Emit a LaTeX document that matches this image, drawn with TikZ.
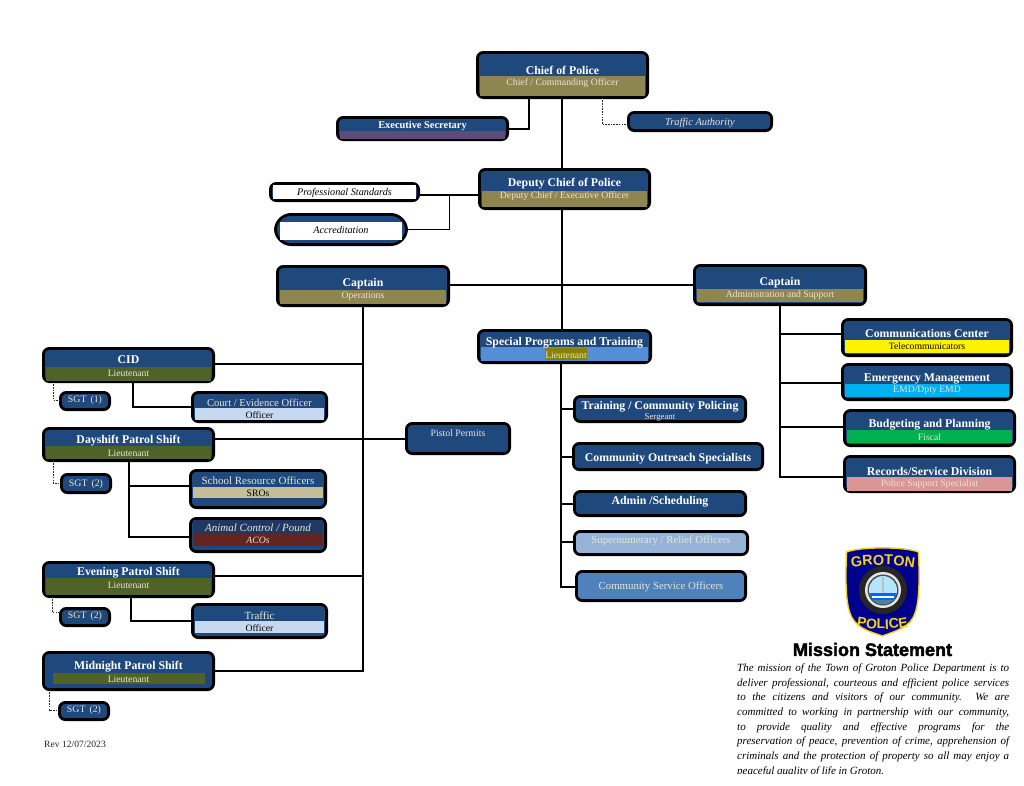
\documentclass[tikz,border=0pt]{standalone}
\usepackage{fontspec}
\setmainfont{Liberation Serif}
\newfontfamily\logofont{Liberation Sans}
\newfontfamily\headfont[BoldFeatures={FakeBold=2.5}]{Liberation Sans}
\usetikzlibrary{calc,decorations.text}
\definecolor{navy}{HTML}{1F497D}
\definecolor{darknavy}{HTML}{1F3864}
\definecolor{gold}{HTML}{8F8550}
\definecolor{olivebar}{HTML}{4F6228}
\definecolor{plum}{HTML}{5F4A7B}
\definecolor{paleblue}{HTML}{C6D9F1}
\definecolor{tan}{HTML}{C4BD97}
\definecolor{maroon}{HTML}{632523}
\definecolor{midblue}{HTML}{558ED5}
\definecolor{hilite}{HTML}{8A8000}
\definecolor{skyband}{HTML}{00B0F0}
\definecolor{greenband}{HTML}{00B050}
\definecolor{pinkband}{HTML}{D99694}
\definecolor{lightsteel}{HTML}{95B3D7}
\definecolor{steel}{HTML}{4F81BD}
\definecolor{subtext}{HTML}{E9E6D6}
\definecolor{logoY}{HTML}{F2D21B}
\definecolor{logoB}{HTML}{00008F}
\tikzset{
  orgbox/.style={draw=black,line width=2.8pt,rounded corners=6pt,fill=navy,inner sep=0pt,outer sep=0pt},
  link/.style={draw=black,line width=2.6pt},
  thinlink/.style={draw=black,line width=1pt},
  dashlink/.style={draw=black!85,line width=0.9pt,dash pattern=on 1.6pt off 1.1pt},
  titletext/.style={text=white,font=\fontsize{11.8}{12}\selectfont\bfseries,inner sep=0pt,yshift=-1pt},
  subtitletext/.style={text=subtext,font=\fontsize{9.7}{10}\selectfont,inner sep=0pt,yshift=-1pt},
  plaintext/.style={text=subtext,font=\fontsize{10.8}{12}\selectfont,inner sep=0pt,yshift=-1pt},
  ital/.style={font=\fontsize{10.4}{12}\selectfont\itshape}
}
% [style], name, x1, y1, x2, y2
\newcommand\obox[6][]{%
  \pgfmathsetmacro\ocx{(#3+#5)/2}\pgfmathsetmacro\ocy{(#4+#6)/2}%
  \pgfmathsetmacro\ow{#5-#3-2.8}\pgfmathsetmacro\oh{#6-#4-2.8}%
  \node[orgbox,minimum width=\ow pt,minimum height=\oh pt,#1] (#2) at (\ocx,\ocy) {};}
% [inset], name, y1, y2, colour
\newcommand\bandat[5][2.5]{%
  \fill[#5] ([xshift=#1 pt]#2.west |- 0,#3) rectangle ([xshift=-#1 pt]#2.east |- 0,#4);}
\newcommand\boxtitle[4][]{\node[titletext,#1] (#2-t) at (#2.center |- 0,#3) {#4};}
\newcommand\boxsub[4][]{\node[subtitletext,#1] (#2-s) at (#2.center |- 0,#3) {#4};}
\begin{document}
\begin{tikzpicture}[x=1pt,y=-1pt]
\useasboundingbox (0,0) rectangle (1024,785);
\fill[white] (0,0) rectangle (1024,785);

% top
\obox{chief}{476}{51}{649}{99}
\bandat{chief}{76}{96}{gold}
\boxtitle{chief}{69.5}{Chief of Police}
\boxsub{chief}{82.5}{Chief / Commanding Officer}

\obox{exec}{336}{116}{509}{141}
\bandat{exec}{131}{139}{plum}
\boxtitle[font=\fontsize{10.4}{11}\selectfont\bfseries]{exec}{125}{Executive Secretary}

\obox{traffauth}{627}{111}{773}{132}
\node[plaintext,ital] (traffauth-t) at (traffauth.center) {Traffic Authority};

\obox{deputy}{478}{168}{651}{210}
\bandat{deputy}{191}{207}{gold}
\boxtitle{deputy}{183}{Deputy Chief of Police}
\boxsub{deputy}{195.5}{Deputy Chief / Executive Officer}

\obox{profstd}{269}{182}{420}{202}
\bandat{profstd}{185}{199}{white}
\node[text=black,inner sep=0pt,yshift=-1pt,font=\fontsize{10.2}{12}\selectfont\itshape] (profstd-t) at (profstd.center |- 0,191.5) {Professional Standards};

\obox[rounded corners=16pt]{accred}{274}{213}{408}{246}
\bandat[5]{accred}{222}{240}{white}
\node[text=black,inner sep=0pt,yshift=-1pt,font=\fontsize{10.2}{12}\selectfont\itshape] (accred-t) at (accred.center |- 0,229) {Accreditation};

% captains
\obox{capops}{276}{265}{450}{307}
\bandat{capops}{290}{304}{gold}
\boxtitle{capops}{283}{Captain}
\boxsub{capops}{295.5}{Operations}

\obox{capadm}{693}{264}{867}{306}
\bandat{capadm}{289}{302}{gold}
\boxtitle{capadm}{281.5}{Captain}
\boxsub{capadm}{294}{Administration and Support}

% centre column
\obox{special}{477}{329}{652}{364}
\bandat{special}{347}{361}{midblue}
\fill[hilite] (545,348) rectangle (587,360);
\boxtitle{special}{342}{Special Programs and Training}
\node[subtitletext] (special-s) at (566,354) {Lieutenant};

\obox{training}{573}{395}{747}{423}
\boxtitle{training}{406}{Training / Community Policing}
\node[subtitletext,font=\fontsize{8.8}{10}\selectfont] (training-s) at (660,417) {Sergeant};

\obox{outreach}{572}{442}{764}{471}
\boxtitle{outreach}{458}{Community Outreach Specialists}

\obox{adminsch}{573}{490}{747}{517}
\boxtitle{adminsch}{501}{Admin /Scheduling}

\obox[fill=lightsteel]{supern}{573}{530}{749}{556}
\node[plaintext] (supern-t) at (supern.center |- 0,540) {Supernumerary / Relief Officers};

\obox[fill=steel]{cso}{575}{570}{747}{602}
\node[plaintext] (cso-t) at (cso.center |- 0,586) {Community Service Officers};

\obox{pistol}{405}{422}{511}{455}
\node[plaintext,font=\fontsize{9.8}{12}\selectfont] (pistol-t) at (pistol.center |- 0,432) {Pistol Permits};

% left column
\obox{cid}{42}{347}{215}{383}
\bandat{cid}{367}{381}{olivebar}
\boxtitle{cid}{359}{CID}
\boxsub{cid}{372.5}{Lieutenant}

\obox{sgtA}{59}{391}{111}{411}
\node[plaintext,font=\fontsize{9.8}{12}\selectfont] (sgtA-t) at (sgtA.center |- 0,399.5) {SGT\, (1)};

\obox{court}{191}{391}{328}{423}
\bandat{court}{408}{420}{paleblue}
\node[plaintext,font=\fontsize{10.6}{12}\selectfont] (court-t) at (court.center |- 0,402) {Court / Evidence Officer};
\boxsub[text=black]{court}{414}{Officer}

\obox{day}{42}{427}{215}{462}
\bandat{day}{446}{459}{olivebar}
\boxtitle{day}{440}{Dayshift Patrol Shift}
\boxsub{day}{452}{Lieutenant}

\obox{sgtB}{60}{473}{112}{494}
\node[plaintext,font=\fontsize{9.8}{12}\selectfont] (sgtB-t) at (sgtB.center |- 0,483) {SGT\, (2)};

\obox{school}{189}{469}{327}{509}
\bandat{school}{487}{498}{tan}
\node[plaintext,font=\fontsize{11}{12}\selectfont] (school-t) at (school.center |- 0,480) {School Resource Officers};
\boxsub[text=black]{school}{492}{SROs}

\obox{animal}{189}{517}{327}{553}
\bandat{animal}{520}{534}{darknavy}
\bandat{animal}{534}{546}{maroon}
\node[plaintext,font=\fontsize{11}{12}\selectfont\itshape] (animal-t) at (animal.center |- 0,527) {Animal Control / Pound};
\boxsub[font=\fontsize{9.7}{10}\selectfont\itshape]{animal}{539.5}{ACOs}

\obox{evening}{42}{561}{215}{598}
\bandat{evening}{578}{595}{olivebar}
\boxtitle{evening}{571.5}{Evening Patrol Shift}
\boxsub{evening}{584}{Lieutenant}

\obox{sgtC}{59}{607}{111}{627}
\node[plaintext,font=\fontsize{9.8}{12}\selectfont] (sgtC-t) at (sgtC.center |- 0,615.5) {SGT\, (2)};

\obox{traffic}{191}{603}{328}{639}
\bandat{traffic}{621}{633}{paleblue}
\node[plaintext,font=\fontsize{11}{12}\selectfont] (traffic-t) at (traffic.center |- 0,614.5) {Traffic};
\boxsub[text=black]{traffic}{627}{Officer}

\obox{midnight}{42}{651}{215}{691}
\fill[olivebar] (53,673) rectangle (205,683.5);
\boxtitle{midnight}{666}{Midnight Patrol Shift}
\boxsub{midnight}{678}{Lieutenant}

\obox{sgtD}{58}{701}{110}{721}
\node[plaintext,font=\fontsize{9.8}{12}\selectfont] (sgtD-t) at (sgtD.center |- 0,709.5) {SGT\, (2)};

\node[anchor=west,inner sep=0pt,text=black!85,font=\fontsize{9.6}{11}\selectfont] (rev) at (44,744) {Rev 12/07/2023};

% right column
\obox{comms}{841}{318}{1013}{357}
\bandat{comms}{340}{353}{yellow}
\boxtitle{comms}{332.8}{Communications Center}
\boxsub[text=black]{comms}{345.5}{Telecommunicators}

\obox{emerg}{841}{363}{1013}{401}
\bandat{emerg}{384}{397}{skyband}
\boxtitle{emerg}{377.5}{Emergency Management}
\boxsub{emerg}{389.5}{EMD/Dpty EMD}

\obox{budget}{843}{409}{1016}{447}
\bandat{budget}{430}{443}{greenband}
\boxtitle{budget}{423.5}{Budgeting and Planning}
\boxsub{budget}{436}{Fiscal}

\obox{records}{843}{455}{1016}{493}
\bandat{records}{477}{491}{pinkband}
\boxtitle{records}{470}{Records/Service Division}
\boxsub{records}{483}{Police Support Specialist}

% junction coordinates
\coordinate (jExec) at (529,129);
\coordinate (jAuth) at (602,124);
\coordinate (jMain) at (562,285);
\coordinate (jProf) at (449,195);
\coordinate (jAcc) at (449,229);
\coordinate (jOps) at (363,364);
\coordinate (jEve) at (363,576);
\coordinate (jMid) at (363,671);
\coordinate (jCourt) at (133,407);
\coordinate (jSch) at (129,486);
\coordinate (jAni) at (129,537);
\coordinate (jTraf) at (131,621);
\coordinate (jSp) at (561,409);
\coordinate (jSp2) at (561,457);
\coordinate (jSp3) at (561,504);
\coordinate (jSp4) at (561,542);
\coordinate (jSp5) at (561,587);
\coordinate (jAd) at (780,334);
\coordinate (jAd2) at (780,383);
\coordinate (jAd3) at (780,427);
\coordinate (jAd4) at (780,477);
\coordinate (dA) at (53,400);
\coordinate (dB) at (53,483);
\coordinate (dC) at (52,612);
\coordinate (dD) at (49,710);
\coordinate (jPistol) at (300,439);

% connectors
\draw[link] (chief.south -| jMain) -- (deputy.north -| jMain);
\draw[link] (deputy.south -| jMain) -- (special.north -| jMain);
\draw[link] (chief.south -| jExec) |- (exec.east |- jExec);
\draw[dashlink] (chief.south -| jAuth) |- (traffauth.west |- jAuth);
\draw[link] (profstd.east |- jProf) -- (deputy.west |- jProf);
\draw[thinlink] (accred.east |- jAcc) -| (jProf);
\draw[link] (capops.east |- jMain) -- (capadm.west |- jMain);
\draw[link] (capops.south -| jOps) -- (jMid) -- (midnight.east |- jMid);
\draw[link] (cid.east |- jOps) -- (jOps);
\draw[link] (evening.east |- jEve) -- (jEve);
\draw[link,line width=2pt] (day.east |- jPistol) -- (pistol.west |- jPistol);
\draw[link] (cid.south -| jCourt) |- (court.west |- jCourt);
\draw[link] (day.south -| jSch) -- (jAni) -- (animal.west |- jAni);
\draw[link] (jSch) -- (school.west |- jSch);
\draw[link] (evening.south -| jTraf) |- (traffic.west |- jTraf);
\draw[dashlink] (cid.south -| dA) |- (sgtA.west |- dA);
\draw[dashlink] (day.south -| dB) |- (sgtB.west |- dB);
\draw[dashlink] (evening.south -| dC) |- (sgtC.west |- dC);
\draw[dashlink] (midnight.south -| dD) |- (sgtD.west |- dD);
\draw[link] (special.south -| jSp) -- (jSp5) -- (cso.west |- jSp5);
\draw[link] (jSp) -- (training.west |- jSp);
\draw[link] (jSp2) -- (outreach.west |- jSp2);
\draw[link] (jSp3) -- (adminsch.west |- jSp3);
\draw[link] (jSp4) -- (supern.west |- jSp4);
\draw[link] (capadm.south -| jAd) -- (jAd4) -- (records.west |- jAd4);
\draw[link] (jAd) -- (comms.west |- jAd);
\draw[link] (jAd2) -- (emerg.west |- jAd2);
\draw[link] (jAd3) -- (budget.west |- jAd3);

% badge
\filldraw[fill=logoB,draw=logoY,line width=1.4pt]
  (846.5,552) .. controls (860,546.5) and (905,546.5) .. (918.5,552)
  .. controls (920,590) and (919,612) .. (910,622)
  .. controls (902,630) and (890,633) .. (882.5,636)
  .. controls (874,633) and (862,630) .. (855,622)
  .. controls (846,612) and (845,590) .. (846.5,552) -- cycle;
\fill[black!85] (883,590) circle (24);
\fill[white!90!black] (883,590) circle (18);
\fill[black!70] (883,590) circle (15.5);
\fill[cyan!30] (883,590) circle (14);
\begin{scope}
\clip (883,590) circle (14);
\fill[blue!60!cyan] (868,593) rectangle (898,600);
\fill[white] (872,596) rectangle (894,597.5);
\fill[black!40!cyan] (868,600) rectangle (898,605);
\fill[white!75!black] (882,577) rectangle (884,593);
\end{scope}
\path[decorate,decoration={text along path,text align=center,
  text={|\logofont\fontsize{14.4}{16}\selectfont\bfseries\color{logoY}|GROTON}}]
  (849,568) .. controls (868,564) and (897,564) .. (917,568);
\path[decorate,decoration={text along path,text align=center,
  text={|\logofont\fontsize{14}{15}\selectfont\bfseries\color{logoY}|POLICE}}]
  (853,626) .. controls (870,630) and (895,630) .. (912,626);

% mission
\node[inner sep=0pt,text=black,font=\headfont\fontsize{18}{20}\selectfont\bfseries] (mhead) at (872.5,649.5) {Mission Statement};
\begin{scope}
\clip (730,658) rectangle (1024,773.5);
\node[anchor=north west,inner sep=0pt,text width=272pt,align=justify,text=black,
      font=\fontsize{11}{14.7}\selectfont\itshape] (mission) at (737,663.5)
 {The mission of the Town of Groton Police Department is to\linebreak
  deliver professional, courteous and efficient police services\linebreak
  to the citizens and visitors of our community.\ \ We are\linebreak
  committed to working in partnership with our community,\linebreak
  to provide quality and effective programs for the\linebreak
  preservation of peace, prevention of crime, apprehension of\linebreak
  criminals and the protection of property so all may enjoy a\linebreak
  peaceful quality of life in Groton.};
\end{scope}
\end{tikzpicture}
\end{document}
